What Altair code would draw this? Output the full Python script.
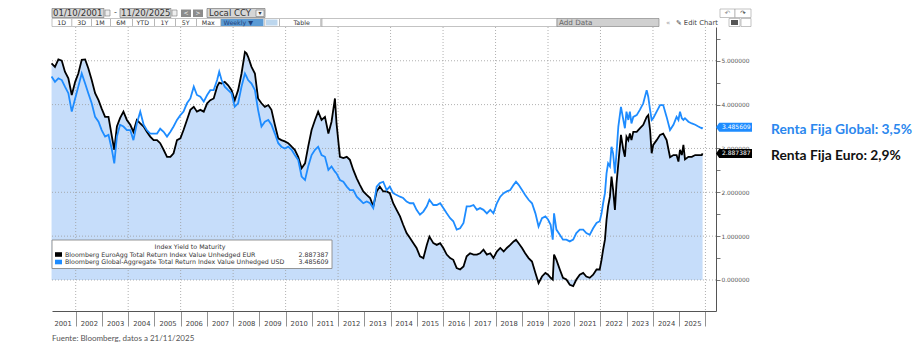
import altair as alt
import pandas as pd

# ---------------- data ----------------
years = [
    2001.08, 2001.21, 2001.34, 2001.47, 2001.59, 2001.72, 2001.85, 2001.98,
    2002.10, 2002.23, 2002.36, 2002.48, 2002.61, 2002.74, 2002.87, 2002.99,
    2003.12, 2003.25, 2003.38, 2003.47, 2003.57, 2003.69, 2003.82, 2003.95,
    2004.08, 2004.20, 2004.33, 2004.46, 2004.59, 2004.71, 2004.84, 2004.97,
    2005.10, 2005.22, 2005.35, 2005.48, 2005.61, 2005.73, 2005.86, 2005.99,
    2006.11, 2006.24, 2006.37, 2006.50, 2006.62, 2006.75, 2006.88,
    2007.01, 2007.13, 2007.26, 2007.39, 2007.47, 2007.56, 2007.68, 2007.81, 2007.94,
    2008.06, 2008.19, 2008.32, 2008.45, 2008.51, 2008.57, 2008.70, 2008.83, 2008.95,
    2009.08, 2009.21, 2009.34, 2009.46, 2009.59, 2009.72, 2009.84, 2009.97,
    2010.10, 2010.23, 2010.35, 2010.48, 2010.61, 2010.74, 2010.86, 2010.99,
    2011.12, 2011.24, 2011.37, 2011.50, 2011.63, 2011.75, 2011.88, 2011.94,
    2012.07, 2012.20, 2012.33, 2012.45, 2012.58, 2012.71, 2012.83, 2012.96,
    2013.09, 2013.22, 2013.34, 2013.47, 2013.59, 2013.72, 2013.85, 2013.97,
    2014.10, 2014.23, 2014.36, 2014.48, 2014.61, 2014.74, 2014.87, 2014.99,
    2015.12, 2015.25, 2015.38, 2015.48, 2015.63, 2015.76, 2015.89,
    2016.01, 2016.14, 2016.27, 2016.39, 2016.52, 2016.65, 2016.78, 2016.90,
    2017.03, 2017.16, 2017.29, 2017.41, 2017.54, 2017.67, 2017.80, 2017.92,
    2018.05, 2018.18, 2018.31, 2018.43, 2018.56, 2018.69, 2018.78, 2018.88,
    2019.01, 2019.13, 2019.26, 2019.39, 2019.52, 2019.64, 2019.77, 2019.90,
    2020.00, 2020.10, 2020.18, 2020.23, 2020.32, 2020.45, 2020.57, 2020.70, 2020.83, 2020.96,
    2021.08, 2021.21, 2021.34, 2021.46, 2021.59, 2021.72, 2021.85, 2021.97,
    2022.04, 2022.10, 2022.17, 2022.23, 2022.29, 2022.36, 2022.42, 2022.48, 2022.55,
    2022.61, 2022.68, 2022.78, 2022.87, 2022.93, 2022.99,
    2023.06, 2023.12, 2023.18, 2023.25, 2023.38, 2023.50, 2023.63, 2023.76, 2023.82,
    2023.89, 2023.95,
    2024.01, 2024.14, 2024.27, 2024.39, 2024.52, 2024.65, 2024.78, 2024.90, 2024.97,
    2025.03, 2025.10, 2025.16, 2025.22, 2025.35, 2025.48, 2025.61, 2025.73, 2025.86, 2025.89,
]

euro_agg = [
    4.94, 4.86, 5.03, 5.00, 4.75, 4.60, 4.22, 4.52,
    4.71, 5.02, 5.03, 4.83, 4.56, 4.26, 4.10, 3.91,
    3.72, 3.72, 3.27, 2.97, 3.50, 3.69, 3.84, 3.65,
    3.54, 3.38, 3.65, 3.57, 3.50, 3.38, 3.27, 3.19,
    3.19, 3.12, 2.97, 2.81, 2.81, 2.89, 3.19, 3.23,
    3.42, 3.65, 3.88, 3.95, 3.84, 3.88, 3.84,
    4.03, 4.10, 4.14, 4.41, 4.50, 4.48, 4.52, 4.44, 4.33,
    4.10, 4.33, 4.71, 5.20, 5.17, 5.09, 4.86, 4.71, 4.14,
    4.03, 3.95, 3.99, 3.88, 3.54, 3.23, 3.19, 3.16,
    3.12, 3.04, 2.97, 2.81, 2.55, 2.66, 3.04, 3.42,
    3.65, 3.84, 3.65, 3.72, 3.34, 3.61, 4.14, 3.57,
    2.81, 2.78, 2.81, 2.74, 2.51, 2.32, 2.17, 2.02,
    1.94, 1.87, 1.68, 2.02, 2.13, 2.02, 2.02, 1.98,
    1.75, 1.60, 1.45, 1.26, 1.07, 0.96, 0.84, 0.73,
    0.54, 0.50, 0.80, 0.99, 0.84, 0.80, 0.84,
    0.73, 0.58, 0.50, 0.46, 0.27, 0.24, 0.31, 0.54,
    0.61, 0.58, 0.58, 0.61, 0.69, 0.58, 0.61, 0.50,
    0.65, 0.73, 0.65, 0.73, 0.80, 0.88, 0.92, 0.84,
    0.73, 0.61, 0.50, 0.42, 0.16, -0.07, 0.08, 0.16,
    0.12, 0.05, 0.01, 0.58, 0.46, 0.24, 0.05, 0.01, -0.11, -0.14,
    0.01, 0.12, 0.16, 0.08, 0.05, 0.12, 0.24, 0.24,
    0.46, 0.69, 0.92, 1.37, 1.68, 1.90, 2.36, 2.06, 1.60,
    2.20, 2.66, 3.31, 2.97, 2.81, 3.27,
    3.19, 3.34, 3.19, 3.38, 3.38, 3.46, 3.54, 3.72, 3.76,
    3.42, 2.89,
    3.08, 3.19, 3.31, 3.34, 3.19, 2.80, 2.85, 2.85, 2.70,
    2.97, 2.85, 3.08, 2.75, 2.81, 2.81, 2.85, 2.85, 2.85, 2.887387,
]

global_agg = [
    4.64, 4.52, 4.60, 4.56, 4.41, 4.26, 3.84, 4.14,
    4.41, 4.71, 4.48, 4.26, 4.03, 3.72, 3.61, 3.42,
    3.27, 3.31, 2.97, 2.66, 3.27, 3.54, 3.50, 3.42,
    3.42, 3.19, 3.57, 3.84, 3.54, 3.42, 3.34, 3.34,
    3.34, 3.45, 3.38, 3.27, 3.38, 3.50, 3.65, 3.76,
    3.84, 4.03, 4.14, 4.41, 4.22, 4.18, 4.07,
    4.22, 4.33, 4.33, 4.56, 4.75, 4.56, 4.41, 4.33, 4.26,
    3.95, 4.03, 4.41, 4.71, 4.64, 4.56, 4.48, 4.33, 3.88,
    3.50, 3.61, 3.65, 3.54, 3.34, 3.12, 3.04, 3.00,
    3.04, 2.97, 2.85, 2.74, 2.36, 2.28, 2.59, 2.85,
    2.97, 3.04, 2.85, 2.81, 2.51, 2.59, 2.47, 2.43,
    2.28, 2.24, 2.13, 2.05, 2.05, 1.90, 1.83, 1.75,
    1.79, 1.75, 1.64, 2.13, 2.21, 2.24, 2.05, 2.13,
    1.98, 1.94, 1.90, 1.87, 1.79, 1.75, 1.75, 1.60,
    1.49, 1.56, 1.68, 1.83, 1.71, 1.71, 1.75,
    1.64, 1.52, 1.41, 1.34, 1.15, 1.18, 1.30, 1.68,
    1.68, 1.71, 1.60, 1.64, 1.60, 1.52, 1.60, 1.52,
    1.75, 1.90, 1.98, 2.02, 2.05, 2.17, 2.24, 2.17,
    2.05, 1.94, 1.83, 1.75, 1.52, 1.22, 1.41, 1.45,
    1.38, 1.26, 0.92, 1.52, 1.15, 1.03, 0.92, 0.92, 0.88, 0.92,
    1.07, 1.15, 1.15, 1.07, 1.03, 1.18, 1.30, 1.34,
    1.52, 1.75, 1.98, 2.43, 2.66, 2.59, 3.04, 2.89, 2.43,
    2.89, 3.50, 3.95, 3.65, 3.46, 3.84,
    3.65, 3.84, 3.57, 3.72, 3.76, 3.88, 4.03, 4.33, 4.18,
    3.88, 3.65,
    3.69, 3.84, 3.99, 3.99, 3.72, 3.42, 3.54, 3.72, 3.65,
    3.84, 3.69, 3.65, 3.69, 3.61, 3.57, 3.54, 3.50, 3.46, 3.485609,
]

series_names = [
    "Bloomberg EuroAgg Total Return Index Value Unhedged EUR",
    "Bloomberg Global-Aggregate Total Return Index Value Unhedged USD",
]
last_values = [2.887387, 3.485609]
last_labels = ["2.887387", "3.485609"]
annotations = ["Renta Fija Euro: 2,9%", "Renta Fija Global: 3,5%"]
legend_title = "Index Yield to Maturity"
source_note = "Fuente: Bloomberg, datos a 21/11/2025"

year_boundaries = list(range(2002, 2027))          # separators between year cells
grid_years = list(range(2002, 2027, 2))            # dotted vertical grid
grid_levels = [0, 1, 2, 3, 4, 5]                   # dotted horizontal grid
y_tick_values = [i / 2 for i in range(0, 12)]      # major + half ticks

# ---------------- layout / style ----------------
L, T = 52, 27          # plot origin inside the 917x354 page
W, H = 664, 284        # plot area
X_DOM = [2001.097, 2026.402]
Y_DOM = [-0.707, 5.77]

BLACK = "#000000"
BLUE = "#1E8CFF"
BLUE_TXT = "#2B87EE"
FILL = "#C6DDFA"
GRID = "#9C9C9C"
AX = "#555555"

xs = alt.Scale(domain=X_DOM, nice=False, zero=False)
ys = alt.Scale(domain=Y_DOM, nice=False, zero=False)

x_axis = alt.Axis(
    values=year_boundaries, orient="bottom", grid=False, title=None,
    domainColor=AX, domainWidth=1, tickColor="#777", tickSize=15, tickWidth=0.8,
    labelExpr="'' + (datum.value - 1)", labelOffset=-13.1, labelPadding=-6,
    labelFont="DejaVu Sans", labelFontSize=6.8, labelColor="#444",
    labelAlign="center", labelBaseline="top", labelOverlap=False, labelFlush=False,
)
y_axis = alt.Axis(
    values=y_tick_values, orient="right", grid=False, title=None,
    domainColor=AX, domainWidth=1, tickColor=AX, tickSize=4, tickWidth=0.8,
    labelExpr="datum.value % 1 == 0 ? format(datum.value, '.6f') : ''",
    labelPadding=1, labelFont="DejaVu Sans", labelFontSize=5.9, labelColor="#555",
    labelOverlap=False, labelFlush=False,
)

df = pd.DataFrame({"t": years, "eur": euro_agg, "glo": global_agg})
X = alt.X("t:Q", scale=xs, axis=x_axis)

ONE = pd.DataFrame({"k": [0]})


def txt(s, x, y, size=7.0, color="#333", align="left", font="DejaVu Sans",
        weight="normal", baseline="middle"):
    return alt.Chart(ONE).mark_text(
        text=s, align=align, baseline=baseline, font=font, fontSize=size,
        color=color, fontWeight=weight,
    ).encode(x=alt.value(x - L), y=alt.value(y - T))


def box(x1, y1, x2, y2, fill, stroke=None, sw=0.8):
    kw = dict(fill=fill)
    if stroke:
        kw.update(stroke=stroke, strokeWidth=sw)
    return alt.Chart(ONE).mark_rect(**kw).encode(
        x=alt.value(x1 - L), x2=alt.value(x2 - L),
        y=alt.value(y1 - T), y2=alt.value(y2 - T))


# ---------------- chart layers ----------------
area = alt.Chart(df).mark_area(color=FILL, opacity=1, interpolate="linear").encode(
    x=X, y=alt.Y("eur:Q", scale=ys, axis=y_axis), y2=alt.value(H))

vgrid = alt.Chart(pd.DataFrame({"g": grid_years})).mark_rule(
    color=GRID, strokeDash=[1, 2], strokeWidth=0.8).encode(
    x=alt.X("g:Q", scale=xs, axis=x_axis))
hgrid = alt.Chart(pd.DataFrame({"g": grid_levels})).mark_rule(
    color=GRID, strokeDash=[1, 2], strokeWidth=0.8).encode(
    y=alt.Y("g:Q", scale=ys, axis=y_axis))

line_eur = alt.Chart(df).mark_line(color=BLACK, strokeWidth=1.8).encode(
    x=X, y=alt.Y("eur:Q", scale=ys, axis=y_axis))
line_glo = alt.Chart(df).mark_line(color=BLUE, strokeWidth=1.8).encode(
    x=X, y=alt.Y("glo:Q", scale=ys, axis=y_axis))

TAG = "M -1 0 L -0.82 -0.25 L 1 -0.25 L 1 0.25 L -0.82 0.25 Z"
tags = []
for val, lab, col in zip(last_values, last_labels, [BLACK, BLUE]):
    tags.append(alt.Chart(ONE).mark_point(
        shape=TAG, size=1296, filled=True, fill=col, opacity=1, strokeWidth=0).encode(
        x=alt.value(734 - L), y=alt.Y(datum=val, type="quantitative", scale=ys, axis=y_axis)))
    tags.append(alt.Chart(ONE).mark_text(
        text=lab, align="left", baseline="middle", font="DejaVu Sans", fontSize=6,
        color="white").encode(
        x=alt.value(722 - L), y=alt.Y(datum=val, type="quantitative", scale=ys, axis=y_axis)))

# legend box
legend = [
    box(52, 240, 332, 268.5, "white", "#8a8a8a", 0.9),
    txt(legend_title, 190, 246.5, size=6.3, align="center"),
    box(55, 252.2, 62, 256.8, BLACK),
    box(55, 259.7, 62, 264.3, BLUE),
    txt(series_names[0], 65, 254.6, size=6.3),
    txt(series_names[1], 65, 262.1, size=6.3),
    txt(last_labels[0], 328.5, 254.6, size=6.3, align="right"),
    txt(last_labels[1], 328.5, 262.1, size=6.3, align="right"),
]

# annotations at right
notes = [
    txt(annotations[1], 771, 129.5, size=13.8, color=BLUE_TXT, font="Lato", weight="bold"),
    txt(annotations[0], 771, 155.5, size=13.8, color="#111", font="Lato", weight="bold"),
    txt(source_note, 52, 338.5, size=8, color="#555", font="Lato"),
]

# toolbar (Bloomberg chrome)
tb = [
    box(52, 8.5, 104, 17.5, "#D6D6D6", "#7a7a7a", 0.7),
    txt("01/10/2001", 53, 13.2, size=8.6, color="#333"),
    box(105, 10, 110, 16, "#EEEEEE", "#777", 0.6),
    txt("-", 114, 13, size=8, color="#555"),
    box(120, 8.5, 171, 17.5, "#D6D6D6", "#7a7a7a", 0.7),
    txt("11/20/2025", 121, 13.2, size=8.6, color="#333"),
    box(172, 10, 177, 16, "#EEEEEE", "#777", 0.6),
    box(181, 9.5, 191, 17, "#8C8C8C"),
    txt("<", 186, 13.2, size=6, color="white", align="center"),
    box(193, 9.5, 203, 17, "#8C8C8C"),
    txt(">", 198, 13.2, size=6, color="white", align="center"),
    box(207, 8.5, 265, 17.5, "#D6D6D6", "#7a7a7a", 0.7),
    txt("Local CCY", 209, 13.2, size=8.6, color="#333"),
    box(256, 10, 264, 16.5, "#F2F2F2", "#777", 0.6),
    txt("▾", 260, 13.2, size=6, color="#333", align="center"),
    box(52, 18.5, 322, 26.5, "white", "#9a9a9a", 0.6),
    box(221, 19, 263.5, 26, "#5B9BD5"),
    box(266, 19.5, 277.5, 25.5, "#BDD7EE"),
    box(322, 18.5, 557, 26.5, "white", "#9a9a9a", 0.6),
    box(557, 18.5, 659, 26.5, "#D0D0D0", "#7a7a7a", 0.6),
    txt("Add Data", 559, 22.7, size=7.2, color="#666"),
    txt("«", 666, 22.5, size=7, color="#999"),
    txt("✎ Edit Chart", 676, 22.7, size=6.8, color="#444"),
    box(729, 18.5, 740, 26.5, "white", "#9a9a9a", 0.6),
    box(731, 20, 738, 25, "#555"),
    box(741, 18.5, 751, 26.5, "white", "#9a9a9a", 0.6),
    box(720, 9, 735, 17.5, "white", "#9a9a9a", 0.6),
    txt("↶", 727.5, 13.3, size=6.5, color="#888", align="center"),
    box(735, 9, 751, 17.5, "white", "#9a9a9a", 0.6),
    txt("↷", 743, 13.3, size=6.5, color="#333", align="center"),
]
for lab, cx in [("1D", 61.7), ("3D", 81.7), ("1M", 100), ("6M", 121), ("YTD", 142.7),
                ("1Y", 164.3), ("5Y", 185.7), ("Max", 208.3), ("Table", 301.7)]:
    tb.append(txt(lab, cx, 22.8, size=6.3, color="#333", align="center"))
tb.append(txt("Weekly ▼", 238.3, 22.8, size=6.3, color="#1F3F7A", align="center"))
for sx in [71.5, 91, 110, 132, 154, 175, 196, 220.5, 264.5, 279, 320.5]:
    tb.append(box(sx, 19, sx + 0.7, 26, "#9a9a9a"))

layers = [area, vgrid, hgrid, line_eur, line_glo] + tags + legend + notes + tb

chart = alt.layer(*layers).properties(
    width=W, height=H,
    padding={"left": L, "top": T, "right": 917 - L - W, "bottom": 354 - T - H},
    autosize=alt.AutoSizeParams(type="none"),
    background="white",
).configure_view(stroke=None)

chart.save("out.html", embed_options={"renderer": "svg", "actions": False})
